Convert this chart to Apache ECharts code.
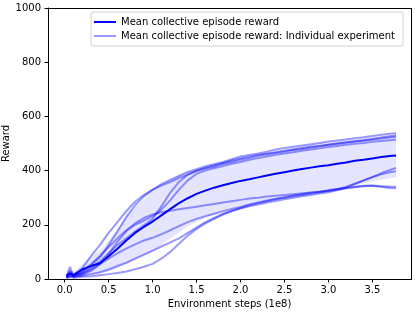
<!DOCTYPE html>
<html>
<head>
<meta charset="utf-8">
<script src="https://cdn.jsdelivr.net/npm/echarts@6/dist/echarts.min.js"></script>
<style>html,body{margin:0;padding:0;background:#fff;overflow:hidden;}#wrap{position:relative;width:415px;height:312px;}#c{width:415px;height:312px;}#frame{position:absolute;box-sizing:border-box;border:1px solid #000;pointer-events:none;}</style>
</head>
<body>
<div id="wrap"><div id="c"></div><div id="frame"></div></div>
<script>
const xs = [0.02,0.06,0.1,0.2,0.3,0.4,0.5,0.6,0.7,0.8,0.9,1.0,1.1,1.2,1.3,1.4,1.5,1.6,1.7,1.8,1.9,2.0,2.1,2.2,2.3,2.4,2.5,2.6,2.7,2.8,2.9,3.0,3.1,3.2,3.3,3.4,3.5,3.6,3.7,3.77];
const runA = [5,30,15,40,85,125,170,210,250,285,310,330,345,358,372,385,398,408,415,425,432,440,447,455,460,465,470,476,480,485,490,495,500,505,508,512,517,522,527,530];
const runB = [10,45,12,25,50,80,125,175,228,272,305,328,350,366,380,395,405,416,424,432,442,452,458,463,470,478,483,488,493,497,502,507,511,515,519,523,528,532,536,538];
const runC = [8,20,10,20,40,65,95,125,150,175,198,222,268,318,358,385,400,410,419,428,437,445,452,458,463,468,473,478,483,488,491,495,499,503,507,510,514,518,522,525];
const runD = [5,15,8,15,30,55,92,138,176,200,215,232,256,290,330,364,388,400,409,417,425,432,440,446,452,458,463,468,473,478,482,487,491,495,499,502,506,509,512,515];
const runE = [3,8,5,8,10,14,18,22,28,36,45,56,75,100,130,160,185,205,222,238,250,260,268,275,282,288,294,300,305,310,315,320,327,337,350,363,376,390,402,410];
const runF = [5,10,8,12,18,25,35,48,60,75,90,105,120,135,150,170,190,210,225,240,252,262,272,280,287,294,300,305,310,315,320,325,330,335,340,344,345,342,340,340];
const runG = [10,25,12,20,35,55,75,95,112,128,142,152,165,180,195,210,222,232,241,250,258,266,275,282,290,296,302,308,313,318,322,328,332,336,339,342,344,340,336,335];
const runH = [8,18,12,28,55,85,118,150,180,205,225,238,246,252,257,262,267,272,277,282,287,292,297,300,304,307,310,313,316,319,322,326,331,340,352,364,376,386,394,398];
const meanReward = [12,20,14,35,48,58,84,112,142,170,192,212,235,258,280,298,314,326,337,346,354,362,368,375,382,388,394,400,406,411,416,420,425,430,436,440,445,450,454,456];
const bandLow = [2,5,5,12,15,20,28,40,55,70,85,100,125,150,172,195,210,225,238,250,258,265,272,280,287,293,299,305,310,316,320,326,332,338,345,352,360,366,372,375];
const bandHigh = [22,35,25,55,85,105,140,185,230,265,295,320,345,365,385,395,405,415,425,432,440,448,455,460,466,472,478,484,490,495,500,505,508,512,516,520,524,527,530,532];
const runs = [runA, runB, runC, runD, runE, runF, runG, runH];
const xTicks = [0,0.5,1.0,1.5,2.0,2.5,3.0,3.5];
const yTicks = [0,200,400,600,800,1000];
const xLimits = [-0.19, 3.94];
const yLimits = [0, 1000];
const meanName = 'Mean collective episode reward';
const indivName = 'Mean collective episode reward: Individual experiment';

const FONT = 'DejaVu Sans';
const FS = 10;
const chart = echarts.init(document.getElementById('c'), null, {renderer: 'canvas'});
const series = [];
series.push({
  type: 'custom', silent: true, z: 1,
  data: xs.map((x, i) => [x, bandLow[i], bandHigh[i]]),
  encode: {x: 0, y: [1, 2]},
  renderItem: function (params, api) {
    if (params.dataIndex !== 0) return null;
    const pts = [];
    for (let i = 0; i < xs.length; i++) pts.push(api.coord([xs[i], bandHigh[i]]));
    for (let i = xs.length - 1; i >= 0; i--) pts.push(api.coord([xs[i], bandLow[i]]));
    return {type: 'polygon', shape: {points: pts}, style: {fill: 'rgba(0,0,255,0.1)'}};
  }
});
runs.forEach(r => {
  series.push({
    name: indivName, type: 'line', showSymbol: false, z: 2,
    data: xs.map((x, i) => [x, r[i]]),
    itemStyle: {color: 'rgba(0,0,255,0.4)'},
    lineStyle: {width: 2, color: 'rgba(0,0,255,0.4)'}
  });
});
series.push({
  name: meanName, type: 'line', showSymbol: false, z: 3,
  data: xs.map((x, i) => [x, meanReward[i]]),
  itemStyle: {color: '#0000ff'},
  lineStyle: {width: 2, color: '#0000ff'}
});

chart.setOption({
  animation: false,
  backgroundColor: '#fff',
  grid: {left: 48, right: 4, top: 8, bottom: 33, containLabel: false, outerBoundsMode: 'none'},
  legend: {
    data: [meanName, indivName],
    orient: 'vertical', left: 91, top: 12,
    icon: 'rect', itemWidth: 22, itemHeight: 2, itemGap: 2,
    padding: [4, 8, 4, 3],
    backgroundColor: 'rgba(255,255,255,0.8)', borderColor: '#d0d0d0', borderWidth: 1, borderRadius: 2,
    textStyle: {fontFamily: FONT, fontSize: FS, color: '#000', lineHeight: 12},
    selectedMode: false
  },
  xAxis: {
    type: 'value', min: xLimits[0], max: xLimits[1],
    name: 'Environment steps (1e8)', nameLocation: 'middle', nameGap: 20, nameMoveOverlap: false,
    nameTextStyle: {fontFamily: FONT, fontSize: FS, color: '#000'},
    axisLine: {show: true, onZero: false, lineStyle: {color: '#000', width: 1}},
    axisTick: {show: true, inside: false, length: 3.5, lineStyle: {color: '#000'}, customValues: xTicks},
    axisLabel: {fontFamily: FONT, fontSize: FS, color: '#000', margin: 6, customValues: xTicks, formatter: v => v.toFixed(1)},
    splitLine: {show: false}
  },
  yAxis: {
    type: 'value', min: yLimits[0], max: yLimits[1], interval: 200,
    name: 'Reward', nameLocation: 'middle', nameGap: 37, nameMoveOverlap: false,
    nameTextStyle: {fontFamily: FONT, fontSize: FS, color: '#000'},
    axisLine: {show: true, onZero: false, lineStyle: {color: '#000', width: 1}},
    axisTick: {show: true, inside: false, length: 3.5, lineStyle: {color: '#000'}, customValues: yTicks},
    axisLabel: {fontFamily: FONT, fontSize: FS, color: '#000', margin: 7, customValues: yTicks, formatter: v => String(v)},
    splitLine: {show: false}
  },
  series: series
});

// axes box: corners converted to pixels through the chart's own scales
const tl = chart.convertToPixel({gridIndex: 0}, [xLimits[0], yLimits[1]]);
const br = chart.convertToPixel({gridIndex: 0}, [xLimits[1], yLimits[0]]);
const fr = document.getElementById('frame');
fr.style.left = Math.round(tl[0]) + 'px';
fr.style.top = Math.round(tl[1]) + 'px';
fr.style.width = (Math.round(br[0]) - Math.round(tl[0]) + 1) + 'px';
fr.style.height = (Math.round(br[1]) - Math.round(tl[1]) + 1) + 'px';
</script>
</body>
</html>
